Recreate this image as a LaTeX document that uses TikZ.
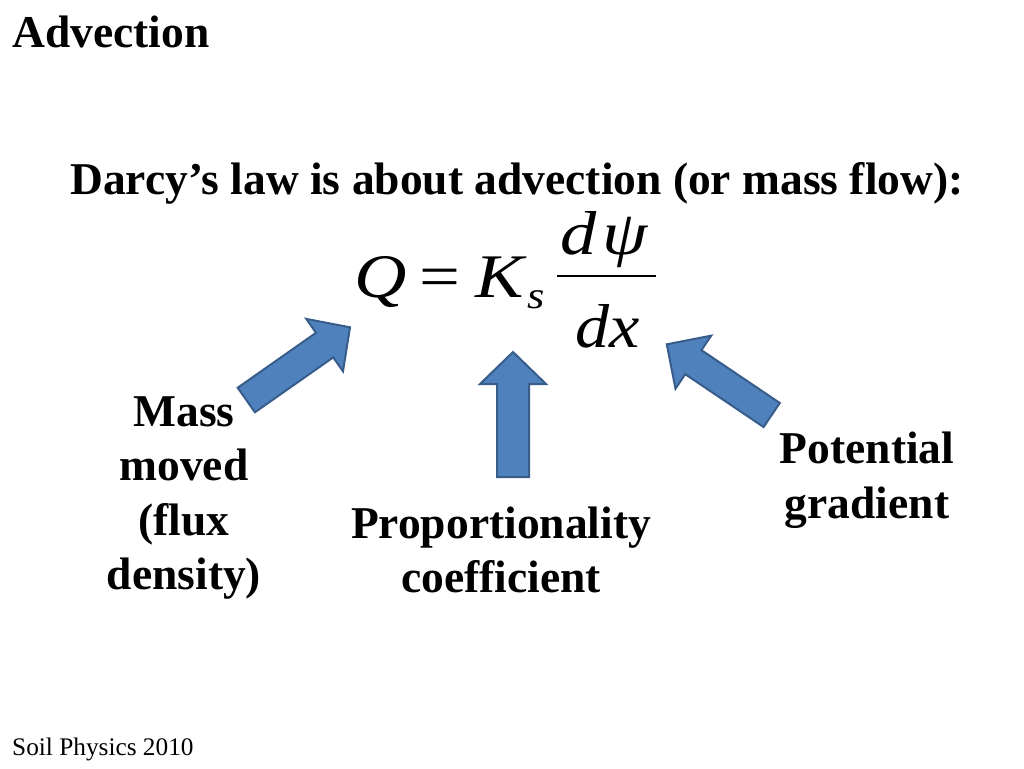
\documentclass[tikz,border=0pt]{standalone}
\usepackage{fontspec}
\usepackage{graphicx}
\setmainfont{Liberation Serif}
\usetikzlibrary{calc}
\definecolor{arrfill}{RGB}{79,129,189}
\definecolor{arrline}{RGB}{56,93,138}
\newcommand\blockarr[5]{%
  \coordinate (bB) at ($(#2)!#5!(#1)$);
  \draw[blk] ($(#1)!#3!90:(#2)$) -- ($(bB)!#3!-90:(#1)$) -- ($(bB)!#4!-90:(#1)$) -- (#2)
    -- ($(bB)!#4!90:(#1)$) -- ($(bB)!#3!90:(#1)$) -- ($(#1)!#3!-90:(#2)$) -- cycle;}
\newcommand\wide[1]{\scalebox{1.17}[1]{#1}}
\begin{document}
\begin{tikzpicture}[x=1pt,y=-1pt,
  blk/.style={fill=arrfill,draw=arrline,line width=2pt,line join=miter},
  big/.style={font=\bfseries\fontsize{45.5}{54.6}\selectfont,inner sep=0pt},
  lbl/.style={big,align=center},
  eq/.style={font=\itshape\fontsize{62}{70}\selectfont,inner sep=0pt,anchor=base west}]
\useasboundingbox[fill=white] (0,0) rectangle (1024,768);
% titles
\node[big,anchor=base west] (title) at (12,48) {Advection};
\node[big,anchor=base] (darcy) at (517,194) {Darcy’s law is about advection (or mass flow):};
\node[font=\fontsize{25.3}{30}\selectfont,inner sep=0pt,anchor=base west] (foot) at (12,755) {Soil Physics 2010};
% equation
\node[eq] (Q) at (354,297) {\wide{Q}};
\node[eq,font=\fontsize{62}{70}\selectfont] (eqs) at (419,297) {\wide{=}};
\node[eq] (K) at (475,297) {\wide{K}};
\node[eq,font=\itshape\fontsize{38}{40}\selectfont] (s) at (527,308) {\wide{s}};
\coordinate (fl) at (557,276);
\coordinate (fr) at (656,276);
\draw[line width=2.5pt] (fl) -- (fr);
\node[eq] (num) at (560,254) {\wide{d\kern5pt ψ}};
\node[eq] (den) at (575,347) {\scalebox{1.1}[1]{dx}};
% arrows
\coordinate (tA) at (246.3,400);  \coordinate (pA) at (350,327.3);
\coordinate (tB) at (513,477);    \coordinate (pB) at (513,352);
\coordinate (tC) at (771.7,415);  \coordinate (pC) at (666.8,344.3);
\blockarr{tA}{pA}{15pt}{32pt}{31pt}
\blockarr{tB}{pB}{16pt}{33pt}{32pt}
\blockarr{tC}{pC}{14.5pt}{32pt}{32pt}
% labels
\node[lbl] (mass) at (184,498) {Mass\\moved\\(flux\\density)};
\node[lbl] (prop) at (501,550) {Proportionality\\coefficient};
\node[lbl] (pot) at (867,480) {Potential\\gradient};
\end{tikzpicture}
\end{document}
